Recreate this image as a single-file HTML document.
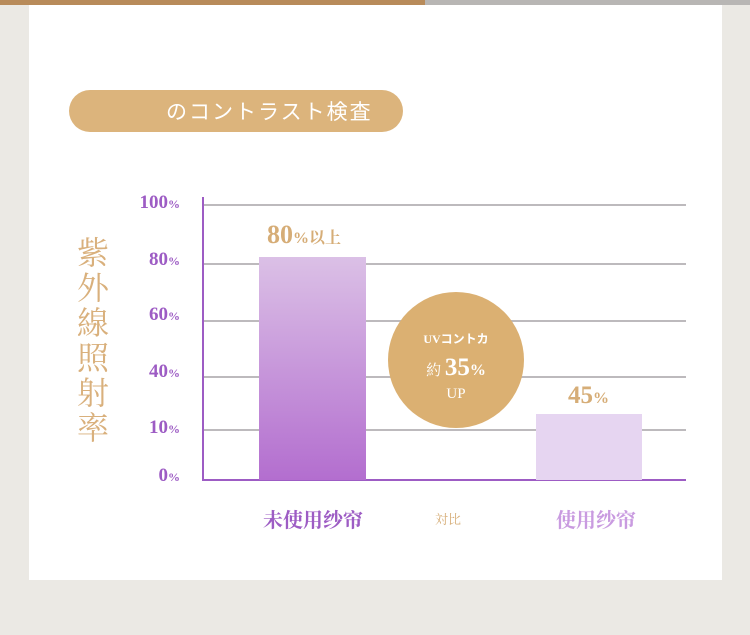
<!DOCTYPE html>
<html><head><meta charset="utf-8"><style>
body{margin:0;width:750px;height:635px;background:#ebe9e4;position:relative;overflow:hidden;font-family:"Liberation Serif","Noto Serif CJK SC",serif}
.a{position:absolute}
.yl{position:absolute;right:570px;color:#9d5cc4;font-weight:bold;font-size:19px;line-height:20px;text-align:right}
.yl small{font-size:12px}
.g{position:absolute;left:203px;width:483px;height:2px;background:#bdbabd}
.vt{position:absolute;left:75px;width:36px;font-size:32px;color:#d9b07c;text-align:center;font-family:"Noto Serif CJK SC",serif;line-height:35px}
</style></head><body>
<div class="a" style="left:0;top:0;width:425px;height:5px;background:#b88b5a"></div>
<div class="a" style="left:425px;top:0;width:325px;height:5px;background:#b8b6b4"></div>
<div class="a" style="left:29px;top:5px;width:693px;height:575px;background:#fff"></div>
<div class="a" style="left:69px;top:90px;width:334px;height:42px;border-radius:21px;background:#dcb47c"></div>
<div class="a" style="left:166px;top:96px;color:#fff;font-size:21px;letter-spacing:2px;font-family:'Noto Sans CJK JP',sans-serif;line-height:30px">のコントラスト検査</div>
<div class="vt" style="top:234px">紫<br>外<br>線<br>照<br>射<br>率</div>
<div class="g" style="top:204px"></div><div class="g" style="top:263px"></div><div class="g" style="top:320px"></div><div class="g" style="top:376px"></div><div class="g" style="top:429px"></div>
<div class="a" style="left:202px;top:197px;width:2px;height:284px;background:#9d5cc4"></div>
<div class="a" style="left:202px;top:479px;width:484px;height:2px;background:#9d5cc4"></div>
<div class="yl" style="top:193px">100<small>%</small></div>
<div class="yl" style="top:250px">80<small>%</small></div>
<div class="yl" style="top:305px">60<small>%</small></div>
<div class="yl" style="top:362px">40<small>%</small></div>
<div class="yl" style="top:418px">10<small>%</small></div>
<div class="yl" style="top:466px">0<small>%</small></div>
<div class="a" style="left:259px;top:257px;width:107px;height:223px;background:linear-gradient(#dbc0e6,#b36ecf)"></div>
<div class="a" style="left:536px;top:414px;width:106px;height:66px;background:#e6d5f1"></div>
<div class="a" style="left:267px;top:220px;color:#d6ad77;font-weight:bold;font-size:26px;line-height:30px;font-family:'Liberation Serif','Noto Serif CJK SC',serif">80<span style="font-size:16px">%以上</span></div>
<div class="a" style="left:568px;top:381px;color:#d6ad77;font-weight:bold;font-size:25px;line-height:30px">45<span style="font-size:16px">%</span></div>
<div class="a" style="left:388px;top:292px;width:136px;height:136px;border-radius:50%;background:#dbb072"></div>
<div class="a" style="left:388px;top:330px;width:136px;text-align:center;color:#fff;font-weight:bold;font-size:12px;font-family:'Liberation Serif','Noto Sans CJK JP',serif">UVコントカ</div>
<div class="a" style="left:388px;top:354px;width:136px;text-align:center;color:#fff;font-size:15px;line-height:28px;font-family:'Liberation Serif','Noto Serif CJK SC',serif">約 <b style="font-size:25px">35<span style="font-size:16px">%</span></b></div>
<div class="a" style="left:388px;top:386px;width:136px;text-align:center;color:#fff;font-size:15px">UP</div>
<div class="a" style="left:251px;top:504px;width:124px;text-align:center;color:#9d5cc4;font-weight:bold;font-size:20px;font-family:'Noto Serif CJK SC',serif">未使用纱帘</div>
<div class="a" style="left:418px;top:509px;width:60px;text-align:center;color:#d6ad77;font-size:13px;font-family:'Noto Serif CJK SC',serif">対比</div>
<div class="a" style="left:536px;top:504px;width:120px;text-align:center;color:#c99be0;font-weight:bold;font-size:20px;font-family:'Noto Serif CJK SC',serif">使用纱帘</div>
</body></html>
